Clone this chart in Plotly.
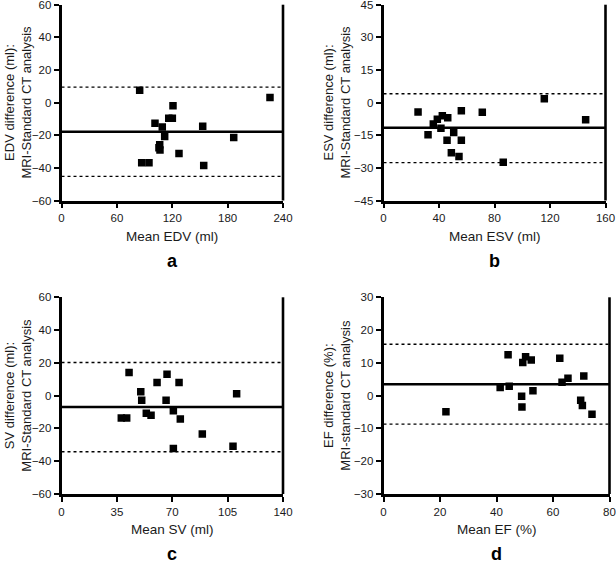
import plotly.graph_objects as go

# ---------------- data ----------------
edv_mean = [84.7, 120.8, 116.2, 120.1, 101.3, 109.2, 153.0, 111.8, 106.4, 105.6, 106.7, 127.3, 86.9, 94.8, 154.1, 225.9, 186.6]
edv_diff = [7.6, -2.0, -9.6, -9.6, -12.6, -14.9, -14.5, -20.8, -25.9, -27.7, -29.0, -31.2, -36.9, -36.9, -38.6, 3.1, -21.4]
edv_bias, edv_upper, edv_lower = -17.9, 9.5, -45.2

esv_mean = [24.9, 56.1, 71.2, 42.4, 46.3, 38.8, 35.9, 41.4, 32.1, 50.6, 45.8, 56.1, 48.9, 54.4, 86.3, 115.9, 145.7]
esv_diff = [-4.3, -3.8, -4.4, -6.0, -7.0, -7.6, -9.8, -11.8, -14.8, -13.8, -17.3, -17.3, -23.1, -24.8, -27.4, 1.8, -7.9]
esv_bias, esv_upper, esv_lower = -11.6, 4.1, -27.6

sv_mean = [42.7, 66.7, 60.4, 74.3, 50.1, 110.7, 50.7, 66.1, 37.8, 41.2, 53.6, 56.6, 70.7, 75.1, 89.0, 70.7, 108.4]
sv_diff = [14.1, 13.1, 8.0, 8.0, 2.4, 1.2, -2.8, -2.8, -13.6, -13.6, -10.8, -12.0, -9.2, -14.3, -23.4, -32.2, -30.9]
sv_bias, sv_upper, sv_lower = -7.0, 20.2, -34.2

ef_mean = [22.1, 44.1, 50.3, 49.3, 52.3, 41.3, 44.5, 48.9, 49.0, 52.9, 62.4, 65.3, 63.2, 70.9, 69.8, 70.4, 73.8]
ef_diff = [-4.9, 12.5, 11.9, 10.1, 10.9, 2.5, 2.9, -0.2, -3.5, 1.5, 11.4, 5.3, 4.1, 6.0, -1.4, -3.0, -5.7]
ef_bias, ef_upper, ef_lower = 3.5, 15.7, -8.7

x_titles = ["Mean EDV (ml)", "Mean ESV (ml)", "Mean SV (ml)", "Mean EF (%)"]
y_titles = ["EDV difference (ml):<br>MRI-Standard CT analysis",
            "ESV difference (ml):<br>MRI-Standard CT analysis",
            "SV difference (ml):<br>MRI-Standard CT analysis",
            "EF difference (%):<br>MRI-standard CT analysis"]
panel_letters = ["a", "b", "c", "d"]
x_ranges = [[0, 240], [0, 160], [0, 140], [0, 80]]
x_dticks = [60, 40, 35, 20]
y_ranges = [[-60, 60], [-45, 45], [-60, 60], [-30, 30]]
y_dticks = [20, 15, 20, 10]

# ---------------- layout geometry (page pixels) ----------------
W, H = 616, 564
x_px = [(61.5, 283), (383.5, 605.5), (61.5, 283), (383.5, 609.5)]
y_px = [(4.7, 200.5), (4.7, 200.5), (297.3, 494), (297.3, 494)]

FONT = "Liberation Sans, Arial, Helvetica, sans-serif"
TXT = "#1a1a1a"

fig = go.Figure()
panels = [
    (edv_mean, edv_diff, edv_bias, edv_upper, edv_lower),
    (esv_mean, esv_diff, esv_bias, esv_upper, esv_lower),
    (sv_mean, sv_diff, sv_bias, sv_upper, sv_lower),
    (ef_mean, ef_diff, ef_bias, ef_upper, ef_lower),
]

def px_x(v):
    return v / W

def px_y(v):
    return 1 - v / H

annotations = []
shapes = []
for i, (xs, ys, bias, up, lo) in enumerate(panels):
    n = "" if i == 0 else str(i + 1)
    xref, yref = "x" + n, "y" + n
    x0, x1 = x_ranges[i]
    for val, dash, width in [(up, "dot", 1.4), (lo, "dot", 1.4), (bias, "solid", 2.5)]:
        fig.add_trace(go.Scatter(x=[x0, x1], y=[val, val], mode="lines",
                                 line=dict(color="black", width=width, dash=dash),
                                 xaxis=xref, yaxis=yref, showlegend=False, hoverinfo="skip"))
    fig.add_trace(go.Scatter(x=xs, y=ys, mode="markers",
                             marker=dict(symbol="square", size=7.5, color="black"),
                             xaxis=xref, yaxis=yref, showlegend=False))

    xd = [px_x(x_px[i][0]), px_x(x_px[i][1])]
    yd = [px_y(y_px[i][1]), px_y(y_px[i][0])]
    axcommon = dict(showgrid=False, zeroline=False, showline=True, linecolor="black",
                    linewidth=2.6, ticks="outside", ticklen=5, tickwidth=2, tickcolor="black",
                    tickfont=dict(family=FONT, size=11.5, color=TXT), automargin=False,
                    ticklabeloverflow="allow")
    fig.layout["xaxis" + n] = dict(domain=xd, range=x_ranges[i], tick0=0, dtick=x_dticks[i],
                                   anchor=yref, mirror=False, **axcommon)
    fig.layout["yaxis" + n] = dict(domain=yd, range=y_ranges[i], tick0=y_ranges[i][0],
                                   dtick=y_dticks[i], anchor=xref, **axcommon)
    # right-hand frame line
    shapes.append(dict(type="line", xref=xref + " domain", yref=yref + " domain",
                       x0=1, x1=1, y0=0, y1=1, line=dict(color="black", width=2.6)))

    cx = (x_px[i][0] + x_px[i][1]) / 2
    cy = (y_px[i][0] + y_px[i][1]) / 2
    base = y_px[i][1]
    annotations.append(dict(text=x_titles[i], xref="paper", yref="paper",
                            x=px_x(cx), y=px_y(base + 35.5), xanchor="center", yanchor="middle",
                            showarrow=False, font=dict(family=FONT, size=13.5, color=TXT)))
    annotations.append(dict(text="<b>" + panel_letters[i] + "</b>", xref="paper", yref="paper",
                            x=px_x(cx), y=px_y(base + 60), xanchor="center", yanchor="middle",
                            showarrow=False, font=dict(family=FONT, size=18, color="black")))
    ytx = 18 if i in (0, 2) else 337
    annotations.append(dict(text=y_titles[i], xref="paper", yref="paper",
                            x=px_x(ytx), y=px_y(cy), xanchor="center", yanchor="middle",
                            textangle=-90, showarrow=False,
                            font=dict(family=FONT, size=13, color=TXT)))

fig.update_layout(width=W, height=H, margin=dict(l=0, r=0, t=0, b=0),
                  paper_bgcolor="white", plot_bgcolor="white",
                  annotations=annotations, shapes=shapes, showlegend=False)

# remove the default page margin so the figure sits at the window's top-left corner
fig.write_html("out.html", config={"displayModeBar": False},
               post_script="document.body.style.margin='0';")
